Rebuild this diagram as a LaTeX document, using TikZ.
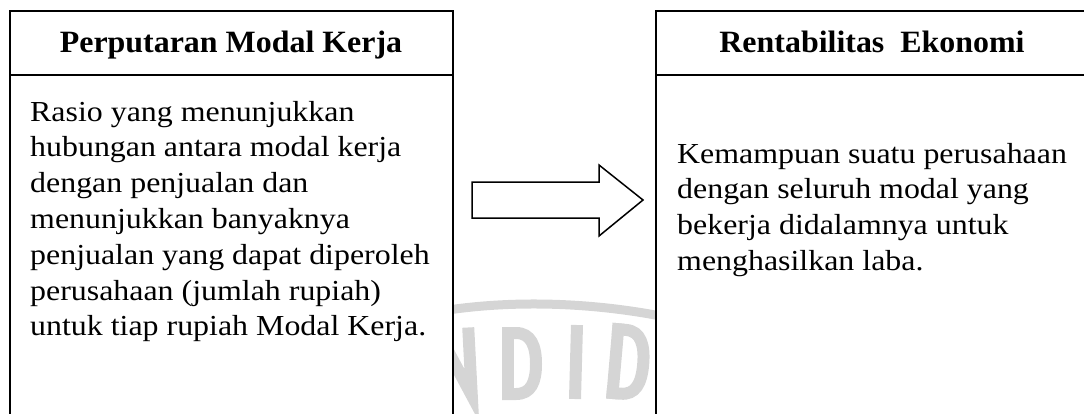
\documentclass[tikz,border=0pt]{standalone}
\usepackage{fontspec}
\setmainfont{Liberation Serif}
\usepackage{graphicx}
\definecolor{wmgray}{HTML}{D5D5D5}
\tikzset{
  boxline/.style={draw=black, line width=1.5pt, fill=white},
  headtext/.style={anchor=base, inner sep=0pt, font=\fontsize{31}{36}\selectfont\bfseries},
  bodytext/.style={anchor=base west, inner sep=0pt, font=\fontsize{29}{35.8}\selectfont},
  wmstroke/.style={draw=wmgray, line width=12pt, line join=miter, line cap=butt},
  blockarrow/.style={draw=black, line width=1.5pt, fill=white, line join=miter}
}
\newcommand\hx[1]{\scalebox{1.03}[1]{#1}}
\newcommand\bx[1]{\scalebox{1.1}[1]{#1}}
\begin{document}
\begin{tikzpicture}[x=1pt,y=-1pt]
\useasboundingbox (0,0) rectangle (1084,413);
% watermark
\draw[wmgray, line width=9pt] (430,313) .. controls (500,300) and (590,300) .. (680,320);
\begin{scope}[rotate around={3:(460,400)}]
  \draw[wmstroke] (437,400) -- (437,334) -- (440,328) -- (472,396) -- (472,328);
\end{scope}
\draw[wmstroke] (508,400) -- (508,327);
\draw[wmstroke] (502,333) -- (516,333) .. controls (531,333) and (536,346) .. (536,364) .. controls (536,382) and (531,394) .. (516,394) -- (502,394);
\draw[wmstroke] (577,325) -- (575,399);
\begin{scope}[shift={(104,0)}, rotate around={-5:(520,400)}]
  \draw[wmstroke] (508,400) -- (508,324);
  \draw[wmstroke] (502,330) -- (516,330) .. controls (531,330) and (536,344) .. (536,363) .. controls (536,382) and (531,394) .. (516,394) -- (502,394);
\end{scope}
% left box
\draw[boxline] (10,11) rectangle (453,440);
\draw[boxline] (10,75) -- (453,75);
\node[headtext] (lhead) at (231,52) {\hx{Perputaran Modal Kerja}};
\node[bodytext] (lbody) at (30,121) {\bx{\parbox[t]{420pt}{\raggedright
Rasio yang menunjukkan\\
hubungan antara modal kerja\\
dengan penjualan dan\\
menunjukkan banyaknya\\
penjualan yang dapat diperoleh\\
perusahaan (jumlah rupiah)\\
untuk tiap rupiah Modal Kerja.}}};
% right box
\draw[boxline] (656,11) rectangle (1100,440);
\draw[boxline] (656,75) -- (1100,75);
\node[headtext] (rhead) at (872,52) {\hx{Rentabilitas\ \ Ekonomi}};
\node[bodytext] (rbody) at (677,163) {\bx{\parbox[t]{420pt}{\raggedright
Kemampuan suatu perusahaan\\
dengan seluruh modal yang\\
bekerja didalamnya untuk\\
menghasilkan laba.}}};
% block arrow
\draw[blockarrow] (472,182) -- (599,182) -- (599,165) -- (643,200) -- (599,236) -- (599,218) -- (472,218) -- cycle;
\end{tikzpicture}
\end{document}
